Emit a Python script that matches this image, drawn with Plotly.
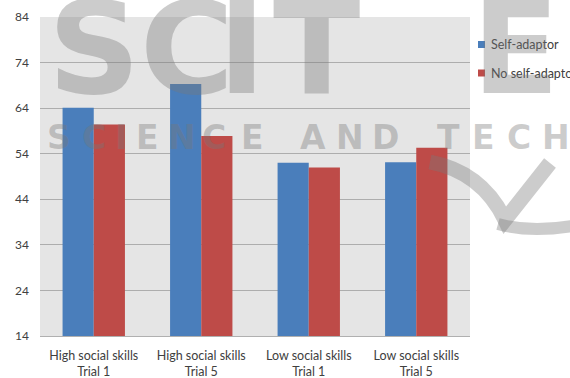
import plotly.graph_objects as go

# Chart data
categories = [
    "High social skills<br>Trial 1",
    "High social skills<br>Trial 5",
    "Low social skills<br>Trial 1",
    "Low social skills<br>Trial 5",
]
series_names = ["Self-adaptor", "No self-adaptor"]
self_adaptor = [64.1, 69.3, 52.0, 52.1]
no_self_adaptor = [60.4, 57.9, 51.0, 55.3]
y_ticks = [14, 24, 34, 44, 54, 64, 74, 84]

colors = ["#4a7ebb", "#be4b48"]
text_color = "#404040"
font_family = "Lato, 'Open Sans', sans-serif"

W, H = 570, 378
M_L, M_R, M_T, M_B = 40, 100, 17, 42
PW, PH = W - M_L - M_R, H - M_T - M_B


def px(x):
    return (x - M_L) / PW


def py(y):
    return (H - M_B - y) / PH


fig = go.Figure()
for name, vals, col in zip(series_names, [self_adaptor, no_self_adaptor], colors):
    fig.add_trace(go.Bar(
        x=categories, y=vals, name=name,
        marker=dict(color=col, line=dict(width=0)),
        showlegend=False,
    ))

annotations = []
shapes = []

# Legend drawn as small squares with labels at the right of the plot area
for i, (name, col) in enumerate(zip(series_names, colors)):
    cy = 44.5 + i * 28.5
    shapes.append(dict(
        type="rect", xref="paper", yref="paper",
        x0=px(478), x1=px(485), y0=py(cy + 3.5), y1=py(cy - 3.5),
        fillcolor=col, line=dict(width=0),
    ))
    annotations.append(dict(
        text=name, xref="paper", yref="paper", x=px(489), y=py(cy),
        xanchor="left", yanchor="middle", showarrow=False,
        font=dict(family=font_family, size=12.5, color=text_color),
    ))

# Publisher watermark
wm = "rgba(120,120,120,0.38)"
for ch, cx in zip("SCITE", [94, 187, 242, 316, 515]):
    annotations.append(dict(
        text=f"<b>{ch}</b>", xref="paper", yref="paper", x=px(cx), y=py(49),
        xanchor="center", yanchor="middle", showarrow=False,
        font=dict(family="DejaVu Sans", size=128, color=wm),
    ))
line2 = [("S", 59), ("C", 94), ("I", 121), ("E", 147), ("N", 182), ("C", 214), ("E", 252),
         ("A", 313), ("N", 350), ("D", 385),
         ("T", 448), ("E", 483), ("C", 519), ("H", 556)]
for ch, cx in line2:
    annotations.append(dict(
        text=f"<b>{ch}</b>", xref="paper", yref="paper", x=px(cx), y=py(137),
        xanchor="center", yanchor="middle", showarrow=False,
        font=dict(family="DejaVu Sans", size=33, color=wm),
    ))
shapes.append(dict(
    type="path", xref="paper", yref="paper",
    path=(f"M {px(430)},{py(162)} Q {px(482)},{py(172)} {px(505)},{py(220)} "
          f"L {px(550)},{py(163)}"),
    line=dict(color=wm, width=15),
))
shapes.append(dict(
    type="path", xref="paper", yref="paper",
    path=f"M {px(498)},{py(224)} Q {px(530)},{py(233)} {px(572)},{py(226)}",
    line=dict(color=wm, width=12),
))

fig.update_layout(
    width=W, height=H,
    margin=dict(l=M_L, r=M_R, t=M_T, b=M_B, autoexpand=False),
    paper_bgcolor="white",
    plot_bgcolor="#e5e5e5",
    barmode="group",
    bargap=0.42,
    bargroupgap=0,
    font=dict(family=font_family, size=12.5, color=text_color),
    xaxis=dict(
        showgrid=False, showline=True, linecolor="#b0b0b0", linewidth=1,
        ticks="", ticklabelstandoff=8, automargin=False,
        tickfont=dict(size=12.5, color=text_color),
    ),
    yaxis=dict(
        range=[14, 84], tickvals=y_ticks, ticktext=[str(v) for v in y_ticks],
        showgrid=True, gridcolor="#adadad", gridwidth=1,
        zeroline=False, showline=False, ticks="",
        ticklabelstandoff=10, automargin=False,
        tickfont=dict(size=12, color=text_color),
    ),
    annotations=annotations,
    shapes=shapes,
)

fig.write_html("out.html")
